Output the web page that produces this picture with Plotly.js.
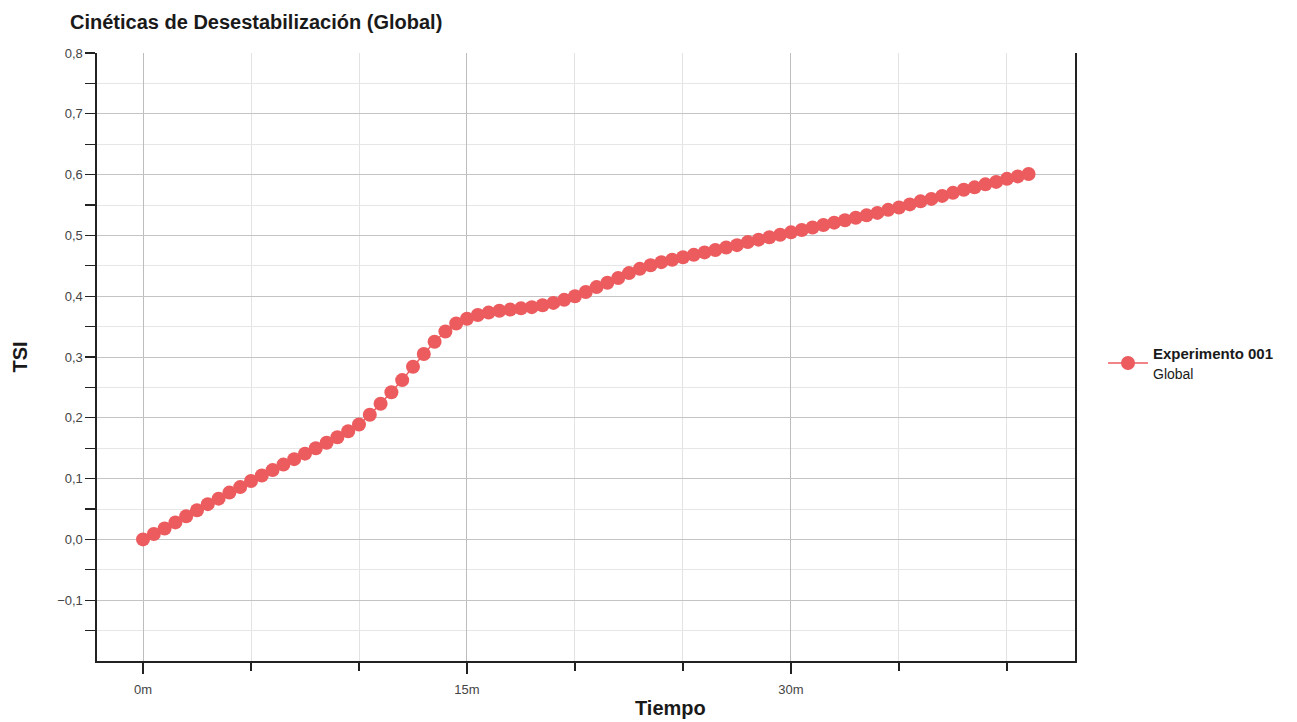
<!DOCTYPE html>
<html>
<head>
<meta charset="utf-8">
<script src="https://cdn.plot.ly/plotly-3.0.1.min.js"></script>
<style>
  html, body { margin: 0; padding: 0; background: #ffffff; }
  #chart { width: 1297px; height: 722px; }
</style>
</head>
<body>
<div id="chart"></div>
<script>
// Time in minutes
var tiempo = [0, 0.5, 1, 1.5, 2, 2.5, 3, 3.5, 4, 4.5, 5, 5.5, 6, 6.5, 7, 7.5, 8, 8.5, 9, 9.5,
  10, 10.5, 11, 11.5, 12, 12.5, 13, 13.5, 14, 14.5, 15, 15.5, 16, 16.5, 17, 17.5, 18, 18.5, 19, 19.5,
  20, 20.5, 21, 21.5, 22, 22.5, 23, 23.5, 24, 24.5, 25, 25.5, 26, 26.5, 27, 27.5, 28, 28.5, 29, 29.5,
  30, 30.5, 31, 31.5, 32, 32.5, 33, 33.5, 34, 34.5, 35, 35.5, 36, 36.5, 37, 37.5, 38, 38.5, 39, 39.5,
  40, 40.5, 41];
// TSI values (Experimento 001, Global)
var tsiGlobal = [0.000, 0.009, 0.018, 0.028, 0.038, 0.048, 0.058, 0.067, 0.077, 0.086, 0.096, 0.105, 0.114, 0.123, 0.132, 0.141, 0.150, 0.159, 0.168, 0.178,
  0.189, 0.205, 0.223, 0.242, 0.262, 0.284, 0.305, 0.325, 0.342, 0.355, 0.363, 0.369, 0.373, 0.376, 0.378, 0.380, 0.382, 0.385, 0.389, 0.394,
  0.400, 0.407, 0.415, 0.422, 0.430, 0.438, 0.445, 0.451, 0.456, 0.460, 0.464, 0.468, 0.472, 0.476, 0.480, 0.484, 0.489, 0.493, 0.497, 0.501,
  0.505, 0.509, 0.513, 0.517, 0.521, 0.525, 0.529, 0.533, 0.537, 0.542, 0.546, 0.551, 0.556, 0.560, 0.565, 0.570, 0.575, 0.579, 0.584, 0.588,
  0.593, 0.597, 0.601];

var xTickVals = [0, 15, 30];
var xTickText = ['0m', '15m', '30m'];
var xMinorVals = [5, 10, 20, 25, 35, 40];
var yTickVals = [-0.1, 0, 0.1, 0.2, 0.3, 0.4, 0.5, 0.6, 0.7, 0.8];
var yMinorVals = [-0.15, -0.05, 0.05, 0.15, 0.25, 0.35, 0.45, 0.55, 0.65, 0.75];

var seriesName = '<b>Experimento 001</b><br><span style="font-size:14px">Global</span>';
var chartTitle = 'Cinéticas de Desestabilización (Global)';
var xTitle = 'Tiempo';
var yTitle = 'TSI';

var red = '#EC5B5E';
var fontFam = '"Liberation Sans", Arial, sans-serif';

var trace = {
  x: tiempo,
  y: tsiGlobal,
  type: 'scatter',
  mode: 'lines+markers',
  name: seriesName,
  line: { color: red, width: 1.5 },
  marker: { color: red, size: 14 }
};

var layout = {
  width: 1297,
  height: 722,
  margin: { l: 97, r: 222, t: 53, b: 61, autoexpand: false },
  paper_bgcolor: '#ffffff',
  plot_bgcolor: '#ffffff',
  separators: ',.',
  font: { family: fontFam, size: 13, color: '#333333' },
  title: {
    text: '<b>' + chartTitle + '</b>',
    x: 70 / 1297, xanchor: 'left', xref: 'container',
    y: 1 - 22 / 722, yanchor: 'middle', yref: 'container',
    font: { family: fontFam, size: 20, color: '#1a1a1a' }
  },
  xaxis: {
    range: [-2.13, 43.15],
    tickmode: 'array',
    tickvals: xTickVals,
    ticktext: xTickText,
    ticks: 'outside',
    ticklen: 11,
    tickwidth: 1.2,
    tickcolor: '#222222',
    ticklabelstandoff: 5,
    tickfont: { family: fontFam, size: 13, color: '#444444' },
    showgrid: true,
    gridcolor: '#bdbdbd',
    gridwidth: 1,
    showline: true,
    linecolor: '#222222',
    linewidth: 1.6,
    zeroline: false,
    minor: {
      tickvals: xMinorVals,
      ticks: 'outside',
      ticklen: 8,
      tickwidth: 1.2,
      tickcolor: '#222222',
      showgrid: true,
      gridcolor: '#e3e3e3',
      gridwidth: 1
    }
  },
  yaxis: {
    range: [-0.2, 0.8],
    tickmode: 'array',
    tickvals: yTickVals,
    tickformat: '.1f',
    ticks: 'outside',
    ticklen: 10,
    tickwidth: 1.2,
    tickcolor: '#222222',
    tickfont: { family: fontFam, size: 13, color: '#444444' },
    showgrid: true,
    gridcolor: '#c4c4c4',
    gridwidth: 1,
    showline: true,
    linecolor: '#222222',
    linewidth: 1.6,
    mirror: true,
    zeroline: false,
    title: {
      text: '<b>' + yTitle + '</b>',
      font: { family: fontFam, size: 20, color: '#1a1a1a' },
      standoff: 24
    },
    minor: {
      tickvals: yMinorVals,
      ticks: 'outside',
      ticklen: 10,
      tickwidth: 1.2,
      tickcolor: '#222222',
      showgrid: true,
      gridcolor: '#e6e6e6',
      gridwidth: 1
    }
  },
  showlegend: true,
  legend: {
    x: (1103 - 97) / 978,
    xanchor: 'left',
    y: (661 - 363) / 608,
    yanchor: 'middle',
    itemwidth: 40,
    font: { family: fontFam, size: 15, color: '#1a1a1a' },
    bgcolor: 'rgba(0,0,0,0)',
    borderwidth: 0
  },
  annotations: [{
    text: '<b>' + xTitle + '</b>',
    xref: 'paper', yref: 'paper',
    x: (670 - 97) / 978, y: (661 - 708) / 608,
    xanchor: 'center', yanchor: 'middle',
    showarrow: false,
    font: { family: fontFam, size: 20, color: '#1a1a1a' }
  }]
};

Plotly.newPlot('chart', [trace], layout, { displayModeBar: false, staticPlot: true });
</script>
</body>
</html>
